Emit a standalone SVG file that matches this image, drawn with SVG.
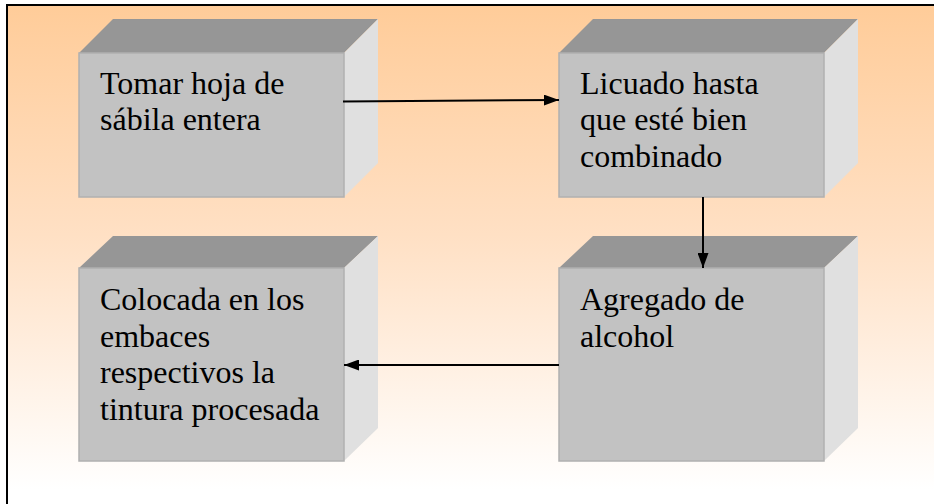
<svg xmlns="http://www.w3.org/2000/svg" width="934" height="504" viewBox="0 0 934 504">
<defs>
<linearGradient id="bg" x1="0" y1="0" x2="0" y2="1">
<stop offset="0" stop-color="#FFCC99"/>
<stop offset="0.45" stop-color="#FFE0C4"/>
<stop offset="0.95" stop-color="#FFFFFF"/>
</linearGradient>
<marker id="ah" markerWidth="15" markerHeight="11" refX="15" refY="5.5" orient="auto" markerUnits="userSpaceOnUse">
<path d="M0,0 L15,5.5 L0,11 Z" fill="#000"/>
</marker>
</defs>
<style>
.front{fill:#C2C2C2;stroke:#B0B0B0;stroke-width:1.5}
.top{fill:#969696}
.side{fill:#E0E0E0}
.lbl{font-size:32px;fill:#000}
.conn{stroke:#000;stroke-width:2;fill:none}
</style>
<rect x="7" y="5" width="934" height="510" fill="url(#bg)" stroke="#000" stroke-width="2"/>
<g font-family="'Liberation Serif', 'Times New Roman', 'DejaVu Serif', serif">
<g id="node1">
<polygon class="top" points="79,53 113,19 378,19 344,53"/>
<polygon class="side" points="344,53 378,19 378,163 344,197"/>
<rect class="front" x="79" y="53" width="265" height="144"/>
<text class="lbl" x="100" y="94">Tomar hoja de</text>
<text class="lbl" x="100" y="130">sábila entera</text>
</g>
<g id="node2">
<polygon class="top" points="559,53 593,19 858,19 824,53"/>
<polygon class="side" points="824,53 858,19 858,163 824,197"/>
<rect class="front" x="559" y="53" width="265" height="144"/>
<text class="lbl" x="580" y="94">Licuado hasta</text>
<text class="lbl" x="580" y="130">que esté bien</text>
<text class="lbl" x="580" y="167">combinado</text>
</g>
<g id="node3">
<polygon class="top" points="79,268 113,236 378,236 344,268"/>
<polygon class="side" points="344,268 378,236 378,428 344,461"/>
<rect class="front" x="79" y="268" width="265" height="193"/>
<text class="lbl" x="100" y="310">Colocada en los</text>
<text class="lbl" x="100" y="347">embaces</text>
<text class="lbl" x="100" y="383">respectivos la</text>
<text class="lbl" x="100" y="420">tintura procesada</text>
</g>
<g id="node4">
<polygon class="top" points="559,268 593,236 858,236 824,268"/>
<polygon class="side" points="824,268 858,236 858,428 824,461"/>
<rect class="front" x="559" y="268" width="265" height="193"/>
<text class="lbl" x="580" y="310">Agregado de</text>
<text class="lbl" x="580" y="347">alcohol</text>
</g>
</g>
<g id="connectors">
<line class="conn" x1="343" y1="101.5" x2="559" y2="100" marker-end="url(#ah)"/>
<line class="conn" x1="703" y1="197" x2="703" y2="268" marker-end="url(#ah)"/>
<line class="conn" x1="559" y1="365" x2="344" y2="365" marker-end="url(#ah)"/>
</g>
</svg>
